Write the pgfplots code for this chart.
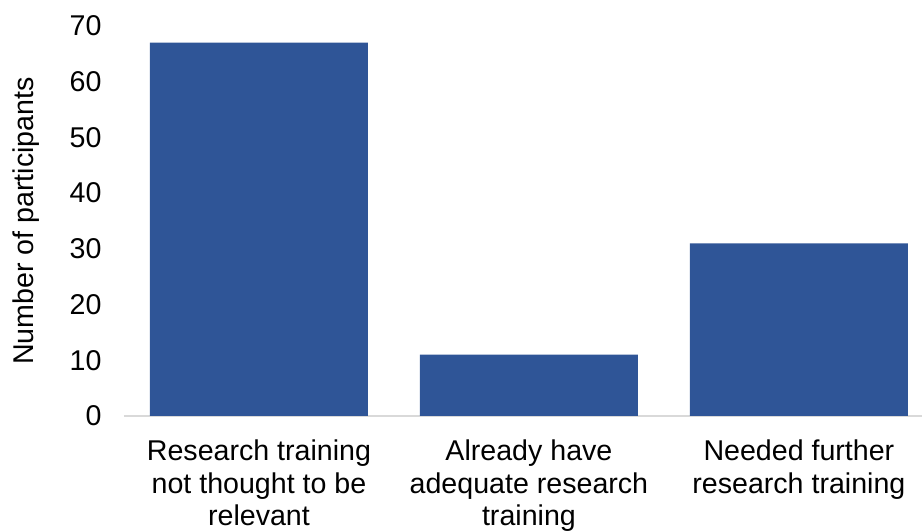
\documentclass[border=0pt]{standalone}
\usepackage{pgfplots}
\pgfplotsset{compat=1.18}
\usepackage{fontspec}
\setmainfont{Liberation Sans}
\definecolor{barblue}{RGB}{47,85,151}
\definecolor{axisgray}{RGB}{217,217,217}
\begin{document}
\begin{tikzpicture}
\begin{axis}[
  width=399pt, height=195pt, scale only axis,
  xmin=-0.5, xmax=2.456, ymin=0, ymax=70,
  ytick={0,10,...,70},
  xtick={0,1,2},
  xticklabels={{Research training\\not thought to be\\relevant},{Already have\\adequate research\\training},{Needed further\\research training}},
  axis x line=bottom, axis y line=left,
  x axis line style={draw=axisgray, line width=0.75pt, -},
  y axis line style={draw=none, -},
  major tick length=0pt,
  tick style={draw=none},
  /pgf/number format/assume math mode=true,
  font=\fontsize{14.3}{16.2}\selectfont,
  ticklabel style={font=\fontsize{14.3}{16.2}\selectfont},
  yticklabel style={xshift=-7.7pt},
  xticklabel style={align=center, yshift=-8.5pt},
  ylabel={Number of participants},
  ylabel style={at={(axis description cs:-0.114,0.5)}, anchor=base, rotate=0, font=\fontsize{14.3}{16.2}\selectfont},
  clip=false,
]
\addplot[ybar, bar width=109pt, fill=barblue, draw=none] coordinates {(0,67) (1,11) (2,31)};
\end{axis}
\pgfresetboundingbox
\path[use as bounding box] ([xshift=-62pt,yshift=-57.5pt]current axis.south west) rectangle ([yshift=13pt]current axis.north east);
\end{tikzpicture}
\end{document}
